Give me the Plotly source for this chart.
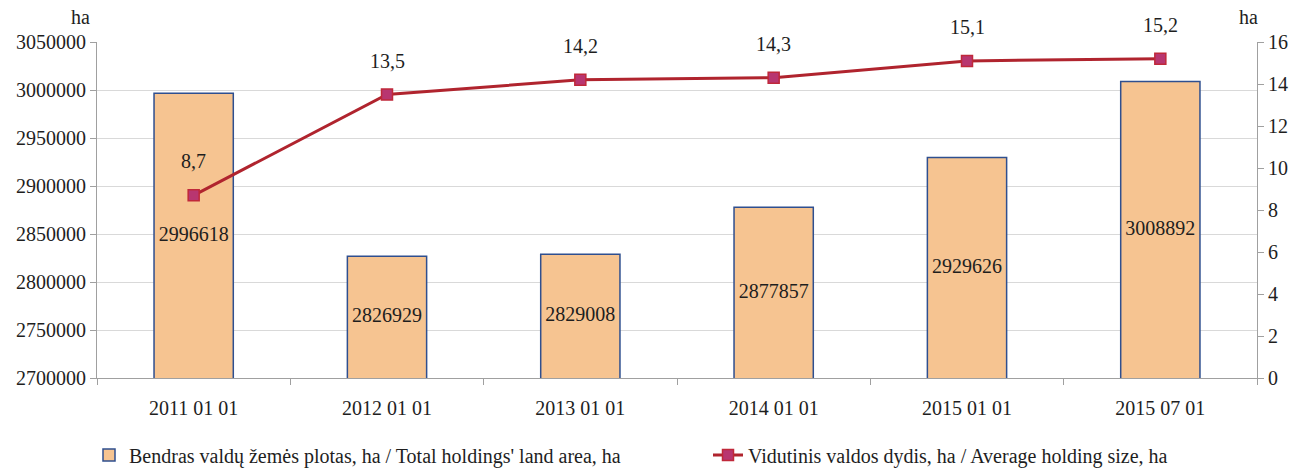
import plotly.graph_objects as go

categories = ["2011 01 01", "2012 01 01", "2013 01 01", "2014 01 01", "2015 01 01", "2015 07 01"]
land_area = [2996618, 2826929, 2829008, 2877857, 2929626, 3008892]
avg_size = [8.7, 13.5, 14.2, 14.3, 15.1, 15.2]
avg_labels = ["8,7", "13,5", "14,2", "14,3", "15,1", "15,2"]
left_ticks = [2700000, 2750000, 2800000, 2850000, 2900000, 2950000, 3000000, 3050000]
right_ticks = [0, 2, 4, 6, 8, 10, 12, 14, 16]
left_min, left_max = 2700000, 3050000

FONT = "Liberation Serif, Times New Roman, serif"
TXT = "#1E1E1E"
FS = 20

W, H = 1291, 468
ML, MR, MT, MB = 97, 34, 42, 90

fig = go.Figure()
fig.add_trace(go.Bar(
    x=categories, y=land_area,
    name="Bendras valdų žemės plotas, ha / Total holdings' land area, ha",
    marker=dict(color="#F6C491", line=dict(color="#2F4F8F", width=1.5)),
    width=0.41,
    textposition="none",
    yaxis="y", legend="legend",
))
# bar value labels, centred in the visible part of each bar
fig.add_trace(go.Scatter(
    x=categories, y=[(v + left_min) / 2 for v in land_area],
    mode="text", text=[str(v) for v in land_area], textposition="middle center",
    textfont=dict(family=FONT, size=FS, color=TXT),
    showlegend=False, hoverinfo="skip", yaxis="y",
))
fig.add_trace(go.Scatter(
    x=categories, y=avg_size,
    name="Vidutinis valdos dydis, ha / Average holding size, ha",
    mode="lines+markers",
    line=dict(color="#B0242E", width=3),
    marker=dict(symbol="square", size=11, color="#B83670", line=dict(color="#C0283A", width=1.5)),
    yaxis="y2", legend="legend2",
))

annotations = []
for c, v, t in zip(categories, avg_size, avg_labels):
    annotations.append(dict(text=t, x=c, y=v, xref="x", yref="y2", yshift=34, showarrow=False,
                            xanchor="center", yanchor="middle",
                            font=dict(family=FONT, size=FS, color=TXT)))

plot_w = W - ML - MR
plot_h = H - MT - MB
def px_to_paper(px, py):
    return (px - ML) / plot_w, (H - MB - py) / plot_h
for px, py in [(80, 17), (1248, 17)]:
    ax, ay = px_to_paper(px, py)
    annotations.append(dict(text="ha", x=ax, y=ay, xref="paper", yref="paper", showarrow=False,
                            xanchor="center", yanchor="middle",
                            font=dict(family=FONT, size=FS, color=TXT)))

legend_font = dict(family=FONT, size=FS, color=TXT)
fig.update_layout(
    width=W, height=H,
    margin=dict(l=ML, r=MR, t=MT, b=MB, autoexpand=False),
    paper_bgcolor="white", plot_bgcolor="white",
    font=dict(family=FONT, size=FS, color=TXT),
    showlegend=True,
    legend=dict(orientation="h", x=89 / W, xref="container", y=(H - 455) / H, yref="container",
                xanchor="left", yanchor="middle", font=legend_font, bgcolor="rgba(0,0,0,0)"),
    legend2=dict(orientation="h", x=708 / W, xref="container", y=(H - 455) / H, yref="container",
                 xanchor="left", yanchor="middle", font=legend_font, bgcolor="rgba(0,0,0,0)"),
    xaxis=dict(type="category", showgrid=False, showline=True, linecolor="#A0A0A0",
               ticks="outside", tickson="boundaries", ticklen=6, tickcolor="#A0A0A0", automargin=False,
               ticklabelstandoff=12, tickfont=dict(family=FONT, size=FS, color=TXT)),
    yaxis=dict(range=[left_min, left_max], tickvals=left_ticks, ticktext=[str(v) for v in left_ticks],
               showgrid=True, gridcolor="#D9D9D9", gridwidth=1, automargin=False,
               showline=True, linecolor="#A0A0A0", ticks="outside", ticklen=6, tickcolor="#A0A0A0",
               tickfont=dict(family=FONT, size=FS, color=TXT), zeroline=False),
    yaxis2=dict(range=[0, 16], tickvals=right_ticks, overlaying="y", side="right", automargin=False,
                showgrid=False, showline=True, linecolor="#A0A0A0", ticks="outside", ticklen=6,
                tickcolor="#A0A0A0", tickfont=dict(family=FONT, size=FS, color=TXT), zeroline=False),
    annotations=annotations,
)

fig.write_html("out.html", config={"displayModeBar": False},
               post_script="document.body.style.margin='0';document.body.style.overflow='hidden';")
